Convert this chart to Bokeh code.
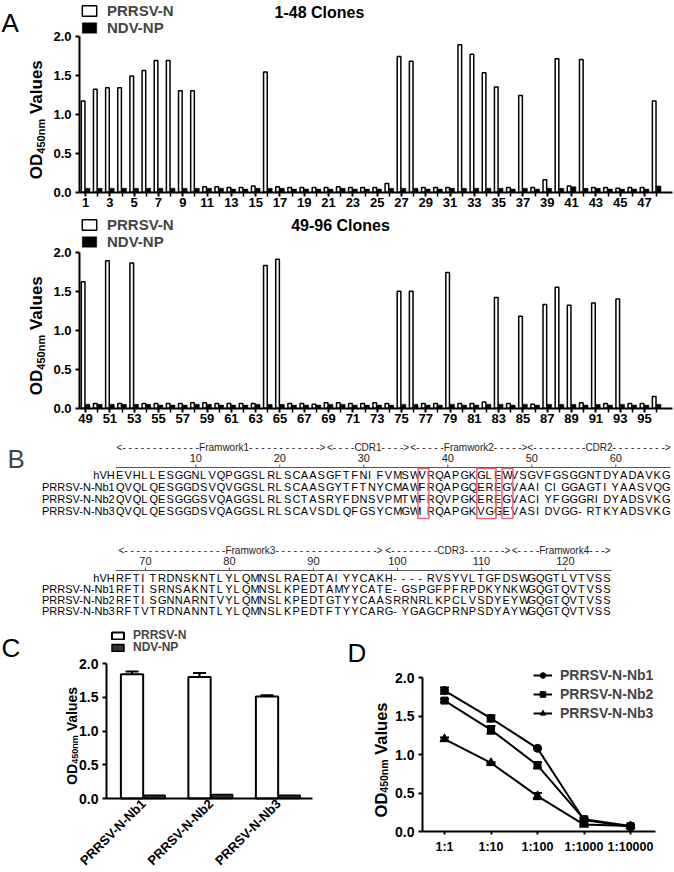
import math
from bokeh.plotting import figure
from bokeh.layouts import column, row
from bokeh.models import (Range1d, FixedTicker, Label, Legend, LegendItem,
                          ColumnDataSource, NumeralTickFormatter)
from bokeh.transform import dodge
from bokeh.core.properties import value
from bokeh.embed import file_html
from bokeh.resources import INLINE

FONT = "Liberation Sans"

# ---------------- Panel A data ----------------
clones_1_48 = list(range(1, 49))
prrsv_1_48 = [1.17, 1.32, 1.34, 1.34, 1.49, 1.56, 1.69, 1.69, 1.30, 1.30,
              0.07, 0.07, 0.06, 0.06, 0.08, 1.54, 0.07, 0.06, 0.06, 0.06,
              0.06, 0.07, 0.06, 0.06, 0.06, 0.11, 1.74, 1.68, 0.06, 0.06,
              0.06, 1.89, 1.77, 1.53, 1.35, 0.06, 1.24, 0.06, 0.16, 1.71,
              0.08, 1.70, 0.06, 0.06, 0.05, 0.06, 0.06, 1.17]
ndv_1_48 = [0.05, 0.05, 0.05, 0.05, 0.05, 0.05, 0.05, 0.05, 0.05, 0.05,
            0.05, 0.05, 0.04, 0.04, 0.05, 0.05, 0.05, 0.04, 0.04, 0.04,
            0.04, 0.05, 0.04, 0.04, 0.04, 0.05, 0.05, 0.05, 0.04, 0.04,
            0.05, 0.05, 0.05, 0.05, 0.05, 0.04, 0.05, 0.04, 0.05, 0.05,
            0.07, 0.05, 0.05, 0.04, 0.04, 0.04, 0.04, 0.08]
clones_49_96 = list(range(49, 97))
prrsv_49_96 = [1.62, 0.06, 1.89, 0.06, 1.86, 0.06, 0.06, 0.06, 0.06, 0.07,
               0.07, 0.06, 0.06, 0.06, 0.06, 1.83, 1.91, 0.06, 0.06, 0.05,
               0.07, 0.07, 0.06, 0.06, 0.07, 0.06, 1.50, 1.50, 0.06, 0.06,
               1.74, 0.06, 0.06, 0.08, 1.42, 0.06, 1.18, 0.05, 1.33, 1.55,
               1.32, 0.07, 1.35, 0.06, 1.40, 0.06, 0.06, 0.15]
ndv_49_96 = [0.05, 0.05, 0.05, 0.05, 0.05, 0.05, 0.04, 0.04, 0.04, 0.05,
             0.05, 0.04, 0.04, 0.04, 0.05, 0.05, 0.05, 0.04, 0.04, 0.04,
             0.05, 0.05, 0.04, 0.04, 0.04, 0.04, 0.05, 0.05, 0.04, 0.04,
             0.05, 0.04, 0.04, 0.05, 0.05, 0.04, 0.05, 0.04, 0.05, 0.05,
             0.05, 0.04, 0.05, 0.04, 0.05, 0.04, 0.04, 0.05]
y_ticks = [0.0, 0.5, 1.0, 1.5, 2.0]
ylabel_parts = ("OD", "450nm", "Values")

# ---------------- Panel B data ----------------
names = ["hVH", "PRRSV-N-Nb1", "PRRSV-N-Nb2", "PRRSV-N-Nb3"]
block1_seqs = ["EVHLLESGGNLVQPGGSLRLSCAASGFTFNIFVMSWVRQAPGKGLEWVSGVFGSGGNTDYADAVKG",
               "QVQLQESGGDSVQVGGSLRLSCAASGYTFTNYCMAWFRQAPGQEREGVAAICIGGAGTIYAASVQG",
               "QVQLQESGGGSVQAGGSLRLSCTASRYFDNSVPMTWFRQVPGKEREGVACIYFGGGRIDYADSVKG",
               "QVQLQESGGDSVQAGGSLRLSCAVSDLQFGSYCMGWIRQAPGKVGGEVASIDVGG-RTKYADSVKG"]
block2_seqs = ["RFTITRDNSKNTLYLQMNSLRAEDTAIYYCAKH----RVSYVLTGFDSWGQGTLVTVSS",
               "RFTISRNSAKNTLYLQMNSLKPEDTAMYYCATE-GSPGFPFRPDKYNKWGQGTQVTVSS",
               "RFTISGNNARNTVYLQMNSLKPEDTGTYYCAASRRNRLKPCLVSDYEYWGQGTQVTVSS",
               "RFTVTRDNANNTLYLQMNSLKPEDTFTYYCARG-YGAGCPRNPSDYAYWGQGTQVTVSS"]
block1_start = 1
block2_start = 67
block1_numbers = [10, 20, 30, 40, 50, 60]
block2_numbers = [70, 80, 90, 100, 110, 120]
# region name, first residue, last residue, dashes before / after the name
block1_regions = [("Framwork1", 1, 25, 12, 11),
                  ("CDR1", 26, 35, 3, 3),
                  ("Framwork2", 36, 49, 4, 4),
                  ("CDR2", 50, 66, 8, 8)]
block2_regions = [("Framwork3", 67, 98, 16, 16),
                  ("CDR3", 99, 113, 7, 6),
                  ("Framwork4", 114, 125, 3, 2)]
hallmark_boxes = [(37, 37), (44, 45), (47, 47)]

# ---------------- Panel C data ----------------
nb_names = ["PRRSV-N-Nb1", "PRRSV-N-Nb2", "PRRSV-N-Nb3"]
prrsv_c = [1.84, 1.80, 1.51]
prrsv_c_err = [0.04, 0.06, 0.02]
ndv_c = [0.05, 0.06, 0.05]

# ---------------- Panel D data ----------------
dilutions = ["1:1", "1:10", "1:100", "1:1000", "1:10000"]
nb1_d = [1.83, 1.47, 1.08, 0.15, 0.06]
nb1_err = [0.04, 0.04, 0.01, 0.02, 0.01]
nb2_d = [1.70, 1.32, 0.86, 0.16, 0.07]
nb2_err = [0.02, 0.05, 0.04, 0.02, 0.02]
nb3_d = [1.20, 0.89, 0.46, 0.09, 0.07]
nb3_err = [0.02, 0.01, 0.04, 0.01, 0.01]


# ---------------- helpers ----------------
def xr(px, val, s, w):
    a = val - px / s
    return Range1d(a, a + w / s)


def yr(px, val, s, h):
    a = val - (h - px) / s
    return Range1d(a, a + h / s)


def base_fig(w, h, xrange, yrange):
    p = figure(width=w, height=h, x_range=xrange, y_range=yrange,
               output_backend="svg", toolbar_location=None,
               min_border_left=0, min_border_right=0, min_border_top=0, min_border_bottom=0)
    p.outline_line_color = None
    p.grid.visible = False
    p.background_fill_color = "white"
    p.border_fill_color = "white"
    return p


def style_axis(ax, size, tick_out=4, standoff=4):
    ax.axis_line_width = 2
    ax.axis_line_color = "black"
    ax.major_tick_line_width = 2
    ax.major_tick_line_color = "black"
    ax.major_tick_out = tick_out
    ax.major_tick_in = 0
    ax.minor_tick_line_color = None
    ax.major_label_text_font = FONT
    ax.major_label_text_font_style = "bold"
    ax.major_label_text_font_size = size
    ax.major_label_text_color = "black"
    ax.major_label_standoff = standoff


def style_y(p, x_loc, size):
    ya = p.yaxis[0]
    style_axis(ya, size)
    ya.fixed_location = x_loc
    ya.bounds = (0, 2)
    ya.ticker = FixedTicker(ticks=y_ticks)
    ya.formatter = NumeralTickFormatter(format="0.0")


def screen_label(p, text, sx, sy, size, bold=False, align="left", angle=0.0, color="black"):
    p.add_layout(Label(x=sx, y=sy, x_units="screen", y_units="screen", text=text,
                       text_font=FONT, text_font_size=f"{size}px",
                       text_font_style="bold" if bold else "normal", text_color=color,
                       text_align=align, text_baseline="middle", angle=angle))


def od_label(p, cx, center_y, main, sub):
    # rotated "OD450nm Values" with subscript, centred at (cx, center_y) in screen units
    w_od = 1.5 * main
    w_sub = 3.168 * sub
    w_sp = 0.278 * main
    w_val = 3.224 * main
    y0 = center_y - (w_od + w_sub + w_sp + w_val) / 2
    a = math.pi / 2
    screen_label(p, ylabel_parts[0], cx, y0, main, True, angle=a)
    screen_label(p, ylabel_parts[1], cx + 0.24 * main, y0 + w_od, sub, True, angle=a)
    screen_label(p, ylabel_parts[2], cx, y0 + w_od + w_sub + w_sp, main, True, angle=a)


def make_legend(pairs, x, y, gw, gh, lh, size, standoff, spacing):
    return Legend(items=[LegendItem(label=l, renderers=r) for l, r in pairs],
                  location=(x, y), margin=0, padding=0, spacing=spacing,
                  glyph_width=gw, glyph_height=gh, label_height=lh, label_standoff=standoff,
                  label_text_font=FONT, label_text_font_style="bold",
                  label_text_font_size=f"{size}px", label_text_line_height=1.0,
                  border_line_color=None, background_fill_alpha=0)


# ---------------- Panel A ----------------
W = 674
SA = 78.0     # px per OD unit
CA = 12.15    # px per clone
AX = 79.0     # y-axis position (px)


def panel_a(clones, prrsv, ndv, title, title_x, h, zero_px, leg_top, title_y, let):
    src = ColumnDataSource(dict(clone=clones, prrsv=prrsv, ndv=ndv))
    p = base_fig(W, h, xr(AX, clones[0] - 0.5, CA, W), yr(zero_px, 0, SA, h))
    r1 = p.vbar(x=dodge("clone", -0.2), top="prrsv", width=0.3, source=src,
                fill_color="white", line_color="black", line_width=1.5)
    r2 = p.vbar(x=dodge("clone", 0.18), top="ndv", width=0.36, source=src,
                fill_color="black", line_color="black", line_width=0.5)
    style_y(p, clones[0] - 0.5, "13px")
    xa = p.xaxis[0]
    style_axis(xa, "13px", standoff=2)
    xa.fixed_location = 0
    xa.bounds = (clones[0] - 0.5, clones[0] - 0.5 + (672 - AX) / CA)
    xa.ticker = FixedTicker(ticks=[c for c in clones if c % 2 == 1],
                            minor_ticks=[c for c in clones if c % 2 == 0])
    xa.minor_tick_line_color = "black"
    xa.minor_tick_line_width = 1.5
    xa.minor_tick_out = 4
    xa.minor_tick_in = 0
    p.add_layout(make_legend([("PRRSV-N", [r1]), ("NDV-NP", [r2])], AX + 1, h - leg_top - 32,
                             18, 13, 16, 15, 9, 0))
    screen_label(p, title, title_x, h - title_y, 16, True, align="center")
    od_label(p, 36, h - (zero_px - SA) - 5, 17, 11)
    if let:
        screen_label(p, let, 1, h - 22, 26)
    return p


pA1 = panel_a(clones_1_48, prrsv_1_48, ndv_1_48, "1-48 Clones", 319, 213, 191.7, 3.5, 12, "A")
pA2 = panel_a(clones_49_96, prrsv_49_96, ndv_49_96, "49-96 Clones", 340, 215, 194.7, 5, 12, None)

# ---------------- Panel B ----------------
CELL = 8.4
X0 = 115.5
BH = 196
pB = figure(width=W, height=BH, x_range=Range1d(-X0 / CELL, (W - X0) / CELL),
            y_range=Range1d(BH, 0), output_backend="svg", toolbar_location=None,
            x_axis_location=None, y_axis_location=None,
            min_border_left=0, min_border_right=0, min_border_top=0, min_border_bottom=0)
pB.outline_line_color = None
pB.grid.visible = False

blocks = [(block1_seqs, block1_start, block1_numbers, block1_regions, 19, 12),
          (block2_seqs, block2_start, block2_numbers, block2_regions, 122, 11)]
seq_x, seq_y, seq_t = [], [], []
nm_x, nm_y, nm_t = [], [], []
num_x, num_y, num_t = [], [], []
hd_x, hd_y, hd_t = [], [], []
rule_x0, rule_x1, rule_y = [], [], []
tk_x, tk_y0, tk_y1 = [], [], []
for seqs, start, numbers, regions, y_head, gap in blocks:
    y_num = y_head + 10.5
    y_rule = y_head + 20
    for r, (nm, s) in enumerate(zip(names, seqs)):
        yy = y_rule + 7.5 + r * gap
        nm_x.append(-0.15); nm_y.append(yy); nm_t.append(nm)
        for i, ch in enumerate(s):
            seq_x.append(i); seq_y.append(yy); seq_t.append(ch)
    for n in numbers:
        num_x.append(n - start + 0.5); num_y.append(y_num); num_t.append(str(n))
        tk_x.append(n - start + 0.5); tk_y0.append(y_rule); tk_y1.append(y_rule - 3)
    for name, a, b, nl, nr in regions:
        hd_x.append((a - start + b - start + 1) / 2); hd_y.append(y_head)
        hd_t.append("<-" + " -" * nl + name + "- " * nr + "->")
    rule_x0.append(0); rule_x1.append(len(seqs[0])); rule_y.append(y_rule)

pB.text(x=seq_x, y=seq_y, text=seq_t, text_font=value(FONT), text_font_size="11px",
        text_align="left", text_baseline="middle", text_color="black")
pB.text(x=nm_x, y=nm_y, text=nm_t, text_font=value(FONT), text_font_size="11px",
        text_align="right", text_baseline="middle", text_color="black")
pB.text(x=num_x, y=num_y, text=num_t, text_font=value(FONT), text_font_size="11px",
        text_align="center", text_baseline="middle", text_color="#222222")
pB.text(x=hd_x, y=hd_y, text=hd_t, text_font=value(FONT), text_font_size="10px",
        text_align="center", text_baseline="middle", text_color="#222222")
pB.segment(x0=rule_x0, x1=rule_x1, y0=rule_y, y1=rule_y, line_color="#555555", line_width=1)
pB.segment(x0=tk_x, x1=tk_x, y0=tk_y0, y1=tk_y1, line_color="#555555", line_width=1)
b_top = blocks[0][4] + 21
b_bot = blocks[0][4] + 20 + 7.5 + 3 * blocks[0][5] + 7.5
pB.quad(left=[a - 1 - 0.05 for a, b in hallmark_boxes],
        right=[b + 0.25 for a, b in hallmark_boxes],
        top=[b_top] * len(hallmark_boxes), bottom=[b_bot] * len(hallmark_boxes),
        fill_alpha=0, line_color="#e5667c", line_width=1.5)
pB.add_layout(Label(x=7, y=BH - 30, x_units="screen", y_units="screen", text="B",
                    text_font=FONT, text_font_size="26px", text_align="left",
                    text_baseline="middle"))

# ---------------- Panel C ----------------
HC = 248
WC = 330
SC = 67.5
GC = 67.5
srcC = ColumnDataSource(dict(x=[1, 2, 3], prrsv=prrsv_c, ndv=ndv_c,
                             hi=[v + e for v, e in zip(prrsv_c, prrsv_c_err)]))
xrC = xr(143, 1, GC, WC)
pC = base_fig(WC, HC, xrC, yr(174, 0, SC, HC))
c1 = pC.vbar(x=dodge("x", -0.17), top="prrsv", width=0.33, source=srcC,
             fill_color="white", line_color="black", line_width=2)
c2 = pC.vbar(x=dodge("x", 0.165), top="ndv", width=0.31, source=srcC,
             fill_color="#333333", line_color="black", line_width=1.5)
pC.segment(x0=dodge("x", -0.17), x1=dodge("x", -0.17), y0="prrsv", y1="hi",
           source=srcC, line_color="black", line_width=2)
pC.scatter(x=dodge("x", -0.17), y="hi", source=srcC, marker="dash", size=13,
           line_color="black", line_width=2)
c_axis_x = xrC.start + 106 / GC
style_y(pC, c_axis_x, "14px")
xa = pC.xaxis[0]
style_axis(xa, "13px", tick_out=0, standoff=3)
xa.fixed_location = 0
xa.bounds = (c_axis_x, xrC.start + 312 / GC)
xa.ticker = FixedTicker(ticks=[1, 2, 3])
xa.major_label_overrides = {1: nb_names[0], 2: nb_names[1], 3: nb_names[2]}
xa.major_label_orientation = math.pi / 4
for (lab, rend), cy in zip([("PRRSV-N", [c1]), ("NDV-NP", [c2])], [10.5, 22.5]):
    pC.add_layout(make_legend([(lab, rend)], 110, HC - cy - 7.5, 15, 9, 12, 12, 8, 0))
od_label(pC, 71, HC - 111, 14, 9)
screen_label(pC, "C", 1, HC - 23, 26)

# ---------------- Panel D ----------------
HD = 248
WD = 344
SD = 77.0
GD = 46.5
xd = [0, 1, 2, 3, 4]
xrD = xr(114, 0, GD, WD)
pD = base_fig(WD, HD, xrD, yr(207, 0, SD, HD))
pairs = []
for nm, vals, errs, mk, sz in [(nb_names[0], nb1_d, nb1_err, "circle", 8),
                               (nb_names[1], nb2_d, nb2_err, "square", 7),
                               (nb_names[2], nb3_d, nb3_err, "triangle", 9)]:
    s = ColumnDataSource(dict(x=xd, y=vals, lo=[v - e for v, e in zip(vals, errs)],
                              hi=[v + e for v, e in zip(vals, errs)]))
    ln = pD.line(x="x", y="y", source=s, line_color="black", line_width=2)
    pD.segment(x0="x", x1="x", y0="lo", y1="hi", source=s, line_color="black", line_width=2)
    pD.scatter(x="x", y="hi", source=s, marker="dash", size=9, line_color="black", line_width=2)
    pD.scatter(x="x", y="lo", source=s, marker="dash", size=9, line_color="black", line_width=2)
    sc = pD.scatter(x="x", y="y", source=s, marker=mk, size=sz, fill_color="black",
                    line_color="black")
    pairs.append((nm, [ln, sc]))
d_axis_x = xrD.start + 92 / GD
style_y(pD, d_axis_x, "14px")
xa = pD.xaxis[0]
style_axis(xa, "12.5px", tick_out=3, standoff=5)
xa.fixed_location = 0
xa.bounds = (d_axis_x, xrD.start + 325 / GD)
xa.ticker = FixedTicker(ticks=xd)
xa.major_label_overrides = {i: d for i, d in zip(xd, dilutions)}
pD.add_layout(make_legend(pairs, 203, HD - 96.5, 19, 14, 14, 14, 8, 3))
od_label(pD, 50, HD - 135, 16.5, 10.5)
screen_label(pD, "D", 17, HD - 28, 26)

layout = column(pA1, pA2, pB, row(pC, pD))
open("out.html", "w").write(file_html(layout, INLINE))
